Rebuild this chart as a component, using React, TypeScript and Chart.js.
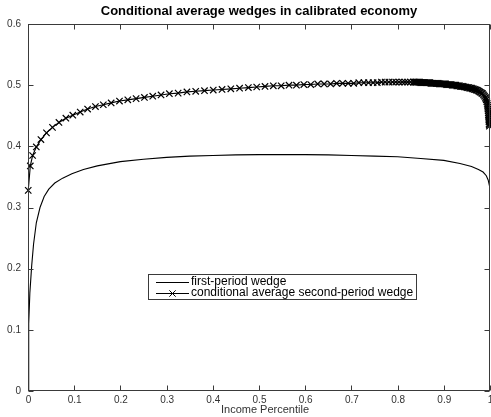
import React, { useEffect, useRef } from 'react';
import { Chart, registerables } from 'chart.js';

Chart.register(...registerables);

const TITLE = 'Conditional average wedges in calibrated economy';
const X_LABEL = 'Income Percentile';
const SERIES_NAMES = ['first-period wedge', 'conditional average second-period wedge'];

const X_MIN = 0;
const X_MAX = 1;
const X_STEP = 0.1;
const Y_MIN = 0;
const Y_MAX = 0.6;
const Y_STEP = 0.1;

// First-period wedge by income percentile
const firstPercentile = [
  0, 0.001, 0.002, 0.004, 0.008, 0.012, 0.018, 0.026, 0.035, 0.045, 0.058, 0.075, 0.095,
  0.12, 0.15, 0.2, 0.25, 0.3, 0.35, 0.4, 0.45, 0.5, 0.55, 0.6, 0.65, 0.7, 0.75, 0.8, 0.85,
  0.9, 0.935, 0.96, 0.975, 0.985, 0.992, 0.996, 0.999, 1.0,
];
const firstWedge = [
  0, 0.06, 0.11, 0.16, 0.205, 0.24, 0.275, 0.3, 0.318, 0.33, 0.34, 0.348, 0.355,
  0.362, 0.368, 0.375, 0.379, 0.382, 0.384, 0.385, 0.386, 0.3865, 0.3865, 0.3865, 0.386, 0.385, 0.384, 0.383, 0.38,
  0.377, 0.372, 0.367, 0.362, 0.358, 0.352, 0.345, 0.335, 0.322,
];

// Conditional average second-period wedge by income percentile
const secondPercentile = [
  0.0005, 0.005, 0.01, 0.018, 0.028, 0.04, 0.053, 0.067, 0.082, 0.097,
  0.113, 0.129, 0.146, 0.163, 0.18, 0.198, 0.216, 0.234, 0.252, 0.27,
  0.288, 0.306, 0.325, 0.344, 0.363, 0.382, 0.401, 0.42, 0.439, 0.458,
  0.477, 0.495, 0.513, 0.531, 0.548, 0.565, 0.581, 0.597, 0.612, 0.627,
  0.641, 0.655, 0.668, 0.681, 0.693, 0.705, 0.716, 0.727, 0.737, 0.747,
  0.756, 0.765, 0.773, 0.781, 0.789, 0.796, 0.803, 0.81, 0.816, 0.822,
  0.828, 0.834, 0.836, 0.838, 0.84, 0.842, 0.844, 0.846, 0.848, 0.85,
  0.852, 0.854, 0.856, 0.858, 0.86, 0.862, 0.864, 0.866, 0.868, 0.87,
  0.872, 0.874, 0.876, 0.878, 0.88, 0.882, 0.884, 0.886, 0.888, 0.89,
  0.892, 0.894, 0.896, 0.898, 0.9, 0.902, 0.904, 0.906, 0.908, 0.91,
  0.912, 0.914, 0.916, 0.918, 0.92, 0.922, 0.924, 0.926, 0.928, 0.93,
  0.932, 0.934, 0.936, 0.938, 0.94, 0.942, 0.944, 0.946, 0.948, 0.95,
  0.952, 0.954, 0.956, 0.958, 0.96, 0.962, 0.964, 0.966, 0.968, 0.97,
  0.972, 0.974, 0.976, 0.978, 0.98, 0.982, 0.984, 0.986, 0.988, 0.99,
  0.991, 0.992, 0.993, 0.994, 0.9945, 0.995, 0.9955, 0.996, 0.9963, 0.9966,
  0.9969, 0.9972, 0.9975, 0.9978, 0.9981, 0.9984, 0.9987,
];
const secondWedge = [
  0.328, 0.368, 0.385, 0.399, 0.411, 0.422, 0.431, 0.439, 0.446, 0.451,
  0.456, 0.461, 0.465, 0.468, 0.471, 0.474, 0.476, 0.478, 0.48, 0.482,
  0.484, 0.486, 0.487, 0.489, 0.49, 0.491, 0.492, 0.493, 0.494, 0.495,
  0.496, 0.497, 0.498, 0.499, 0.499, 0.5, 0.5, 0.501, 0.501, 0.502,
  0.502, 0.502, 0.503, 0.503, 0.503, 0.503, 0.504, 0.504, 0.504, 0.504,
  0.504, 0.505, 0.505, 0.505, 0.505, 0.505, 0.505, 0.505, 0.505, 0.505,
  0.505, 0.505, 0.505, 0.505, 0.505, 0.505, 0.505, 0.505, 0.505, 0.504,
  0.504, 0.504, 0.504, 0.504, 0.504, 0.504, 0.504, 0.504, 0.504, 0.504,
  0.503, 0.503, 0.503, 0.503, 0.503, 0.503, 0.503, 0.503, 0.503, 0.502,
  0.502, 0.502, 0.502, 0.502, 0.502, 0.502, 0.502, 0.501, 0.501, 0.501,
  0.501, 0.501, 0.501, 0.5, 0.5, 0.5, 0.5, 0.5, 0.499, 0.499,
  0.499, 0.499, 0.498, 0.498, 0.498, 0.498, 0.497, 0.497, 0.497, 0.496,
  0.496, 0.496, 0.495, 0.495, 0.495, 0.494, 0.494, 0.493, 0.493, 0.492,
  0.492, 0.491, 0.49, 0.489, 0.488, 0.487, 0.486, 0.484, 0.482, 0.48,
  0.478, 0.476, 0.473, 0.47, 0.467, 0.464, 0.461, 0.458, 0.455, 0.452,
  0.449, 0.446, 0.443, 0.44, 0.437, 0.435, 0.433,
];

const FONT = '"Liberation Sans", Arial, Helvetica, sans-serif';
const AXIS_COLOR = '#3a3a3a';
const TEXT_COLOR = '#333333';
const MARKER_RADIUS = 4.5;

const toPoints = (xs: number[], ys: number[]) => xs.map((x, i) => ({ x, y: ys[i] }));
const fmt = (v: number) => String(Number(v.toFixed(1)));

// Axes box, inward ticks, x tick labels, title, x label and the in-plot legend
const framePlugin = {
  id: 'frame',
  afterDraw(chart: any) {
    const { ctx, chartArea } = chart;
    const { left, right, top, bottom } = chartArea;
    const L = Math.round(left) + 0.5;
    const R = Math.round(right) - 0.5;
    const T = Math.round(top) + 0.5;
    const B = Math.round(bottom) - 0.5;
    const xScale = chart.scales.x;
    const yScale = chart.scales.y;
    ctx.save();
    ctx.strokeStyle = AXIS_COLOR;
    ctx.lineWidth = 1;
    ctx.strokeRect(L, T, R - L, B - T);

    const tickLen = 5;
    ctx.beginPath();
    xScale.ticks.forEach((t: any) => {
      const px = Math.round(xScale.getPixelForValue(t.value)) + 0.5;
      ctx.moveTo(px, B);
      ctx.lineTo(px, B - tickLen);
      ctx.moveTo(px, T);
      ctx.lineTo(px, T + tickLen);
    });
    yScale.ticks.forEach((t: any) => {
      const py = Math.round(yScale.getPixelForValue(t.value)) + 0.5;
      ctx.moveTo(L, py);
      ctx.lineTo(L + tickLen, py);
      ctx.moveTo(R, py);
      ctx.lineTo(R - tickLen, py);
    });
    ctx.stroke();

    // x tick labels, centred under each tick
    ctx.fillStyle = TEXT_COLOR;
    ctx.font = `10px ${FONT}`;
    ctx.textAlign = 'center';
    ctx.textBaseline = 'middle';
    xScale.ticks.forEach((t: any) => {
      const px = xScale.getPixelForValue(t.value);
      ctx.fillText(fmt(t.value), px + 0.5, 400);
    });

    // Title and x-axis label
    const cx = (left + right) / 2;
    ctx.fillStyle = '#000';
    ctx.font = `bold 13px ${FONT}`;
    ctx.fillText(TITLE, cx, 11);
    ctx.fillStyle = TEXT_COLOR;
    ctx.font = `11px ${FONT}`;
    ctx.fillText(X_LABEL, cx + 6, 409.5);

    // Legend
    ctx.font = `12px ${FONT}`;
    const boxL = 148.5;
    const boxT = 274.5;
    const rowH = 11;
    const lineL = 156;
    const lineR = 189;
    const textX = 191;
    const w = Math.max(...SERIES_NAMES.map((s) => ctx.measureText(s).width));
    const boxR = Math.round(textX + w + 3) + 0.5;
    const boxB = boxT + rowH * 2 + 3;
    ctx.fillStyle = '#fff';
    ctx.fillRect(boxL, boxT, boxR - boxL, boxB - boxT);
    ctx.strokeStyle = AXIS_COLOR;
    ctx.strokeRect(boxL, boxT, boxR - boxL, boxB - boxT);
    ctx.textAlign = 'left';
    ctx.textBaseline = 'middle';
    SERIES_NAMES.forEach((name, i) => {
      const y = boxT + 7 + i * rowH;
      const ly = Math.round(y) + 0.5;
      ctx.strokeStyle = '#000';
      ctx.beginPath();
      ctx.moveTo(lineL, ly);
      ctx.lineTo(lineR, ly);
      ctx.stroke();
      if (i === 1) {
        const mx = (lineL + lineR) / 2;
        const d = MARKER_RADIUS * Math.SQRT1_2;
        ctx.beginPath();
        ctx.moveTo(mx - d, ly - d);
        ctx.lineTo(mx + d, ly + d);
        ctx.moveTo(mx - d, ly + d);
        ctx.lineTo(mx + d, ly - d);
        ctx.stroke();
      }
      ctx.fillStyle = '#000';
      ctx.fillText(name, textX, y + 0.5);
    });
    ctx.restore();
  },
};

export default function App() {
  const canvasRef = useRef<HTMLCanvasElement | null>(null);

  useEffect(() => {
    const canvas = canvasRef.current;
    if (!canvas) return;
    const chart = new Chart(canvas, {
      type: 'scatter',
      data: {
        datasets: [
          {
            label: SERIES_NAMES[0],
            data: toPoints(firstPercentile, firstWedge),
            showLine: true,
            borderColor: '#000',
            borderWidth: 1.1,
            pointRadius: 0,
            pointHoverRadius: 0,
          },
          {
            label: SERIES_NAMES[1],
            data: toPoints(secondPercentile, secondWedge),
            showLine: true,
            clip: false,
            borderColor: '#000',
            backgroundColor: '#000',
            borderWidth: 1.1,
            pointStyle: 'crossRot',
            pointRadius: MARKER_RADIUS,
            pointBorderWidth: 1.2,
            pointBorderColor: '#000',
            pointHoverRadius: MARKER_RADIUS,
          },
        ],
      },
      options: {
        responsive: false,
        animation: false,
        events: [],
        layout: { autoPadding: false, padding: { left: 0, top: 24, right: 1, bottom: 0 } },
        plugins: {
          legend: { display: false },
          tooltip: { enabled: false },
          title: { display: false },
        },
        scales: {
          x: {
            type: 'linear',
            min: X_MIN,
            max: X_MAX,
            grid: { display: false, drawTicks: false },
            border: { display: false },
            ticks: {
              display: false,
              stepSize: X_STEP,
              autoSkip: false,
              maxRotation: 0,
            },
            afterFit: (s: any) => {
              s.height = 26;
            },
          },
          y: {
            type: 'linear',
            min: Y_MIN,
            max: Y_MAX,
            grid: { display: false, drawTicks: false },
            border: { display: false },
            ticks: {
              stepSize: Y_STEP,
              padding: 7,
              color: TEXT_COLOR,
              font: { family: FONT, size: 10 },
              callback: (v: any) => fmt(Number(v)),
            },
            afterFit: (s: any) => {
              s.width = 28;
            },
          },
        },
      },
      plugins: [framePlugin],
    });
    return () => chart.destroy();
  }, []);

  return (
    <div style={{ position: 'fixed', left: 0, top: 0, width: 491, height: 417, background: '#fff' }}>
      <canvas ref={canvasRef} width={491} height={417} style={{ display: 'block' }} />
    </div>
  );
}
